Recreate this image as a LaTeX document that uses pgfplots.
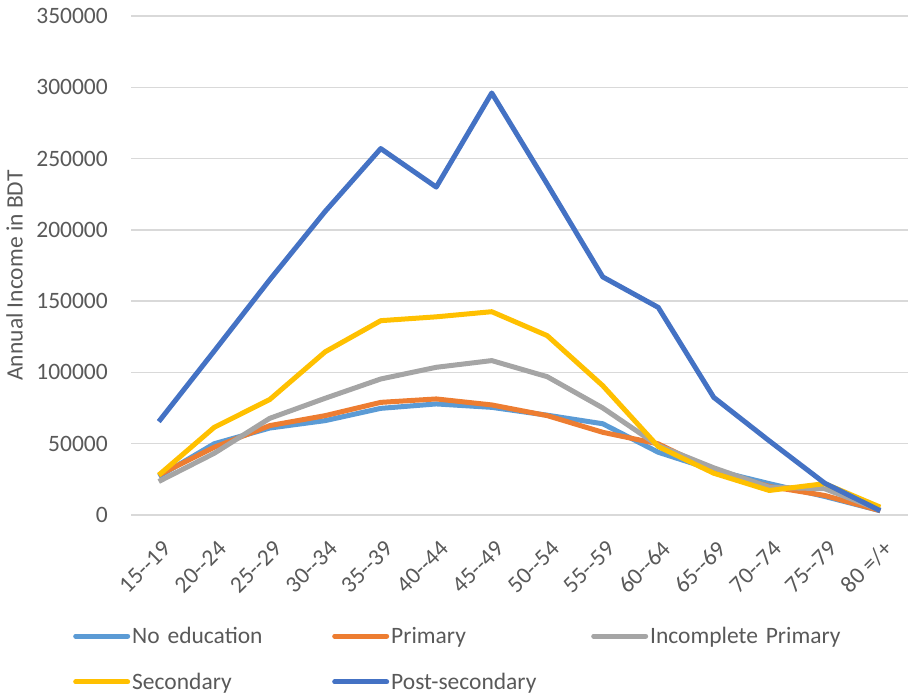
\documentclass[border=0pt]{standalone}
\usepackage{fontspec}
\setmainfont{Carlito}
\usepackage{pgfplots}
\pgfplotsset{compat=1.18}
\usepackage{pgfplotstable}

\definecolor{noedu}{RGB}{91,155,213}
\definecolor{prim}{RGB}{237,125,49}
\definecolor{incprim}{RGB}{165,165,165}
\definecolor{second}{RGB}{255,192,0}
\definecolor{postsec}{RGB}{68,114,196}
\definecolor{txt}{RGB}{89,89,89}
\definecolor{gridc}{RGB}{217,217,217}

% Annual income (BDT) by age group and education level
\pgfplotstableread{
x  noedu  prim   incprim second postsec
0  27000  28000  23500   28000  65500
1  50000  47500  43300   61500  115000
2  61000  62700  67800   81000  165000
3  66200  69700  81900   114500 213000
4  74800  79000  95400   136300 257000
5  77900  81400  103600  139000 230000
6  75500  77200  108300  142600 296000
7  70000  69700  97000   125800 232000
8  64000  58000  75100   90700  167000
9  44000  49900  48700   48000  145600
10 31500  31000  33100   29300  82500
11 22000  20000  19500   17200  52000
12 13000  13700  18400   22000  22300
13 3000   3000   3500    5500   3000
}\income

\begin{document}
\begin{tikzpicture}[x=1pt,y=1pt]
\begin{axis}[
  at={(131pt,178pt)}, anchor=south west,
  scale only axis, width=777pt, height=499pt,
  font=\fontsize{23.5}{28}\selectfont\color{txt},
  xmin=-0.5, xmax=13.5, ymin=0, ymax=350000,
  ytick={0,50000,...,350000},
  scaled y ticks=false,
  /pgf/number format/fixed,
  /pgf/number format/1000 sep={},
  /pgf/number format/assume math mode=true,
  xtick={0,...,13},
  xticklabels={15-{}-19,20-{}-24,25-{}-29,30-{}-34,35-{}-39,40-{}-44,45-{}-49,50-{}-54,55-{}-59,60-{}-64,65-{}-69,70-{}-74,75-{}-79,80 =/+},
  axis line style={draw=none},
  major tick length=0pt,
  ymajorgrids, grid style={gridc, line width=1.5pt},
  yticklabel style={anchor=east, inner sep=0pt, xshift=-23pt},
  xticklabel style={inner sep=0pt, xshift=8pt, yshift=-30pt, rotate=45, anchor=east},
  ylabel={Annual Income in BDT},
  ylabel style={at={(axis description cs:-0.15,0.48)}, anchor=center},
  legend columns=3,
  legend style={at={(-0.0785,-0.2164)}, anchor=north west, draw=none, fill=none,
    font=\fontsize{23.5}{28}\selectfont\color{txt},
    /tikz/every even column/.append style={text width=198pt},
    row sep=24pt},
  legend cell align=left,
  legend image code/.code={\draw[#1, line width=5pt, line cap=round] (0pt,0pt) -- (52pt,0pt);},
  every axis plot/.append style={line width=5pt, line join=round, no markers},
]
\addplot[noedu] table[x=x, y=noedu] {\income};
\addlegendentry{No education}
\addplot[prim] table[x=x, y=prim] {\income};
\addlegendentry{Primary}
\addplot[incprim] table[x=x, y=incprim] {\income};
\addlegendentry{Incomplete Primary}
\addplot[second] table[x=x, y=second] {\income};
\addlegendentry{Secondary}
\addplot[postsec] table[x=x, y=postsec] {\income};
\addlegendentry{Post-secondary}
\end{axis}
\pgfresetboundingbox
\path[use as bounding box] (0pt,0pt) rectangle (909pt,693pt);
\end{tikzpicture}
\end{document}
